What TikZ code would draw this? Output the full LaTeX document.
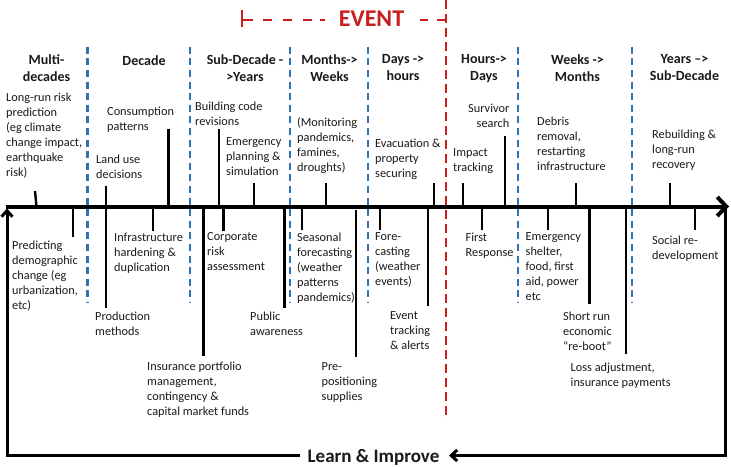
\documentclass[tikz,border=0pt]{standalone}
\usepackage{fontspec}
\setmainfont{Carlito}
\usetikzlibrary{arrows.meta}
\definecolor{divblue}{HTML}{2E74B5}
\definecolor{evred}{HTML}{C81E1E}
\definecolor{txt}{HTML}{1A1A1A}
\begin{document}
\begin{tikzpicture}[x=1pt,y=-1pt,
  lab/.style={anchor=north west, align=left, inner sep=0pt, text=txt,
    font=\fontsize{12.3}{15}\selectfont, execute at begin node=\rule{0pt}{9pt}},
  labr/.style={lab, anchor=north east, align=right},
  hdr/.style={anchor=north, align=center, inner sep=0pt, text=txt,
    font=\bfseries\fontsize{14}{17}\selectfont, execute at begin node=\rule{0pt}{10.5pt}},
  tickline/.style={line width=2.4pt, line cap=butt},
  divider/.style={draw=divblue, line width=2.4pt, dash pattern=on 7pt off 4.6pt},
  evline/.style={draw=evred, line width=2.6pt},
  loopline/.style={line width=3pt}]
\useasboundingbox[fill=white] (0,0) rectangle (731,466);

% blue dividers
\foreach \x in {87.3,190,290,367.7,518,631.7}
  \draw[divider] (\x,46.7) -- (\x,302);

% red event line and bracket
\draw[evline, dash pattern=on 9pt off 5pt] (446,0) -- (446,420);
\draw[evline] (242,10) -- (242,27);
\draw[evline, dash pattern=on 11pt off 10pt on 8.5pt off 11.5pt on 8.5pt off 11.5pt on 8.5pt off 8pt on 5pt off 20pt] (242,20) -- (325,20);
\draw[evline, dash pattern=on 8pt off 8.5pt on 10pt off 5pt] (420,20) -- (446,20);
\node[anchor=base, inner sep=0pt, text=evred, font=\bfseries\fontsize{24}{28}\selectfont] (ev) at (371.5,26.8) {EVENT};

% main axis
\coordinate (axL) at (5.5,206.5);
\coordinate (axR) at (729,206.5);
\draw[line width=4pt, -{Straight Barb[length=9pt,width=19pt]}] (axL) -- (axR);

% feedback loop
\coordinate (lpR) at (725,206.5);
\coordinate (lpBR) at (725,455.5);
\coordinate (lpTip) at (449,455.5);
\coordinate (lpMid) at (300,455.5);
\coordinate (lpBL) at (7,455.5);
\coordinate (lpTop) at (7,208.5);
\draw[loopline, -{Straight Barb[length=6pt,width=11pt]}] (lpR) -- (lpBR) -- (lpTip);
\draw[loopline, -{Straight Barb[length=6pt,width=11pt]}] (lpMid) -- (lpBL) -- (lpTop);
\node[anchor=base, inner sep=0pt, text=txt, font=\bfseries\fontsize{19}{22}\selectfont] (learn) at (373.5,462) {Learn \& Improve};

% headers
\node[hdr] (h1) at (46.5,54.5) {Multi-\\decades};
\node[hdr] (h2) at (144,54.5) {Decade};
\node[hdr] (h3) at (245,54.5) {Sub-Decade -\\>Years};
\node[hdr] (h4) at (329.5,54.5) {Months->\\Weeks};
\node[hdr] (h5) at (403,54.5) {Days ->\\hours};
\node[hdr] (h6) at (484,54.5) {Hours->\\Days};
\node[hdr] (h7) at (577.5,54.5) {Weeks ->\\Months};
\node[hdr] (h8) at (684.5,54.5) {Years –>\\Sub-Decade};

% upper labels
\node[lab] (u1) at (6,92.5) {Long-run risk\\prediction\\(eg climate\\change impact,\\earthquake\\risk)};
\node[lab] (u2) at (107,106.5) {Consumption\\patterns};
\node[lab] (u3) at (96,154.5) {Land use\\decisions};
\node[lab] (u4) at (195,101.5) {Building code\\revisions};
\node[lab] (u5) at (226,137.5) {Emergency\\planning \&\\simulation};
\node[lab] (u6) at (297,117) {(Monitoring\\pandemics,\\famines,\\droughts)};
\node[lab] (u7) at (375,139) {Evacuation \&\\property\\securing};
\node[lab] (u8) at (453,148) {Impact\\tracking};
\node[labr] (u9) at (509.5,104) {Survivor\\search};
\node[lab] (u10) at (537,116.5) {Debris\\removal,\\restarting\\infrastructure};
\node[lab] (u11) at (652,130) {Rebuilding \&\\long-run\\recovery};

% lower labels
\node[lab] (l1) at (12,241) {Predicting\\demographic\\change (eg\\urbanization,\\etc)};
\node[lab] (l2) at (95,311.5) {Production\\methods};
\node[lab] (l3) at (114,232.5) {Infrastructure\\hardening \&\\duplication};
\node[lab] (l4) at (207,232.5) {Corporate\\risk\\assessment};
\node[lab] (l5) at (147,362) {Insurance portfolio\\management,\\contingency \&\\capital market funds};
\node[lab] (l6) at (250,311.5) {Public\\awareness};
\node[lab] (l7) at (297,232.5) {Seasonal\\forecasting\\(weather\\patterns\\pandemics)};
\node[lab] (l8) at (321.5,362) {Pre-\\positioning\\supplies};
\node[lab] (l9) at (375,232.5) {Fore-\\casting\\(weather\\events)};
\node[lab] (l10) at (390,311.5) {Event\\tracking\\\& alerts};
\node[lab] (l11) at (465.5,232.5) {First\\Response};
\node[lab] (l12) at (525.5,232.5) {Emergency\\shelter,\\food, first\\aid, power\\etc};
\node[lab] (l13) at (563,311.5) {Short run\\economic\\“re-boot”};
\node[lab] (l14) at (570.5,362.5) {Loss adjustment,\\insurance payments};
\node[lab] (l15) at (652,235.5) {Social re-\\development};

% upper ticks
\draw[tickline] (35,191) -- (36.5,206.5);
\foreach \x/\y in {106/186,168.3/129,218.7/129,254/183,326/183,434/183,463/183,505/135.7,576/183,670/183}
  \draw[tickline] (\x,206.5) -- (\x,\y);
% lower ticks
\foreach \x/\y in {72.7/236.7,106/308,152.7/230.7,203.3/356,223.3/230.7,284.3/307.7,301.7/230,380/230,427.7/305.7,481.7/230,547.7/230,589.3/304.3,625.7/354.3,695/230}
  \draw[tickline] (\x,206.5) -- (\x,\y);
\draw[tickline] (356,210) -- (356,356.7);
\end{tikzpicture}
\end{document}
